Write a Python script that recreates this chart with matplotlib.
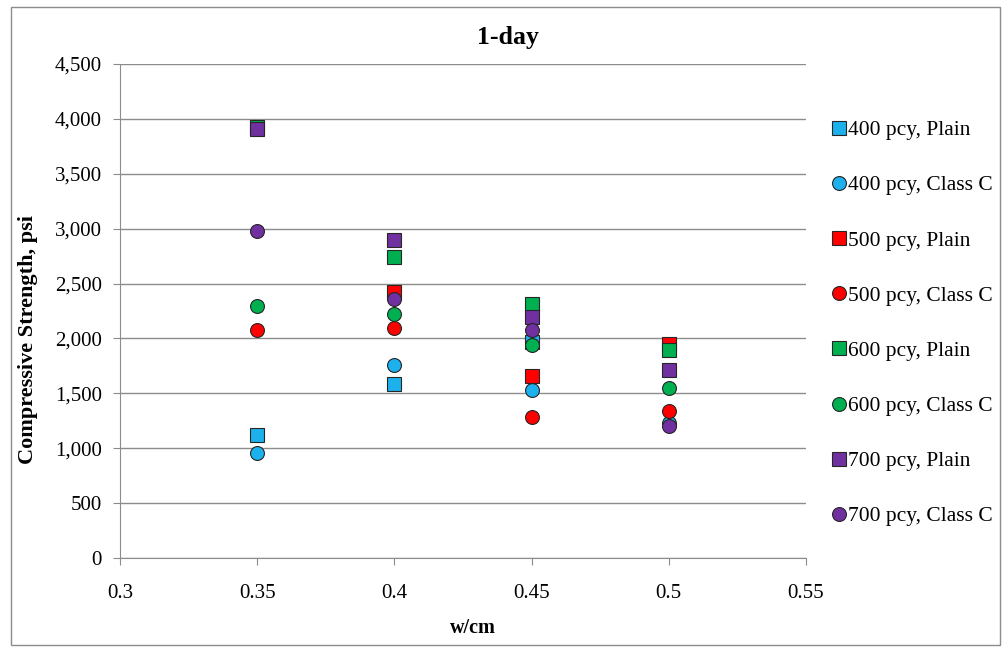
import matplotlib
matplotlib.use("Agg")
import matplotlib.pyplot as plt
from matplotlib.patches import Rectangle
from matplotlib.ticker import FuncFormatter

plt.rcParams['font.family'] = ['Liberation Serif', 'DejaVu Serif']

# w/cm values and 1-day strengths (psi)
labels = ['400 pcy, Plain', '400 pcy, Class C', '500 pcy, Plain', '500 pcy, Class C',
          '600 pcy, Plain', '600 pcy, Class C', '700 pcy, Plain', '700 pcy, Class C']
wcm_400p = [0.35, 0.40, 0.45]
psi_400p = [1120, 1585, 1970]
wcm_400c = [0.35, 0.40, 0.45, 0.50]
psi_400c = [960, 1760, 1530, 1230]
wcm_500p = [0.40, 0.45, 0.50]
psi_500p = [2420, 1655, 1950]
wcm_500c = [0.35, 0.40, 0.45, 0.50]
psi_500c = [2080, 2095, 1285, 1335]
wcm_600p = [0.35, 0.40, 0.45, 0.50]
psi_600p = [3930, 2740, 2310, 1895]
wcm_600c = [0.35, 0.40, 0.45, 0.50]
psi_600c = [2300, 2220, 1945, 1545]
wcm_700p = [0.35, 0.40, 0.45, 0.50]
psi_700p = [3910, 2900, 2200, 1710]
wcm_700c = [0.35, 0.40, 0.45, 0.50]
psi_700c = [2980, 2360, 2080, 1205]

xs = [wcm_400p, wcm_400c, wcm_500p, wcm_500c, wcm_600p, wcm_600c, wcm_700p, wcm_700c]
ys = [psi_400p, psi_400c, psi_500p, psi_500c, psi_600p, psi_600c, psi_700p, psi_700c]
colors = ['#1CB0EC', '#1CB0EC', '#FF0000', '#FF0000',
          '#00B050', '#00B050', '#7030A0', '#7030A0']
markers = ['s', 'o'] * 4

fig = plt.figure(figsize=(10.08, 6.5), dpi=100)
fig.patches.append(Rectangle((0.011, 0.008), 0.981, 0.982, transform=fig.transFigure,
                             fill=False, edgecolor='#8c8c8c', linewidth=1))
ax = fig.add_axes([0.119, 0.1415, 0.6805, 0.76])

for x, y, c, m, lab in zip(xs, ys, colors, markers, labels):
    ax.plot(x, y, linestyle='none', marker=m, markersize=10, color=c,
            markeredgecolor='#262626', markeredgewidth=0.8, label=lab)

ax.set_xlim(0.3, 0.55)
ax.set_ylim(0, 4500)
ax.set_xticks([0.3, 0.35, 0.4, 0.45, 0.5, 0.55])
ax.set_xticklabels(['0.3', '0.35', '0.4', '0.45', '0.5', '0.55'])
ax.set_yticks(range(0, 4501, 500))
ax.yaxis.set_major_formatter(FuncFormatter(lambda v, p: f'{int(v):,}'))
ax.grid(axis='y', color='#8c8c8c', linewidth=1)
ax.set_axisbelow(True)
for s in ['top', 'right']:
    ax.spines[s].set_visible(False)
for s in ['left', 'bottom']:
    ax.spines[s].set_color('#8c8c8c')
ax.tick_params(axis='both', colors='#8c8c8c', length=5, labelsize=15,
               labelcolor='black', direction='out')
ax.tick_params(axis='x', pad=13.5)
ax.tick_params(axis='y', pad=8)

fig.text(0.504, 0.943, '1-day', ha='center', va='center', fontsize=18.5, fontweight='bold')
fig.text(0.028, 0.477, 'Compressive Strength, psi', rotation=90, ha='center', va='center',
         fontsize=16, fontweight='bold')
fig.text(0.469, 0.034, 'w/cm', ha='center', va='center', fontsize=14.5, fontweight='bold')

fig.legend(loc='upper left', bbox_to_anchor=(0.8245, 0.815), frameon=False,
           fontsize=15.5, labelspacing=1.63, handletextpad=0.1, handlelength=0.7,
           borderaxespad=0, borderpad=0, markerscale=1.0)

fig.savefig('out.png', dpi=100)
